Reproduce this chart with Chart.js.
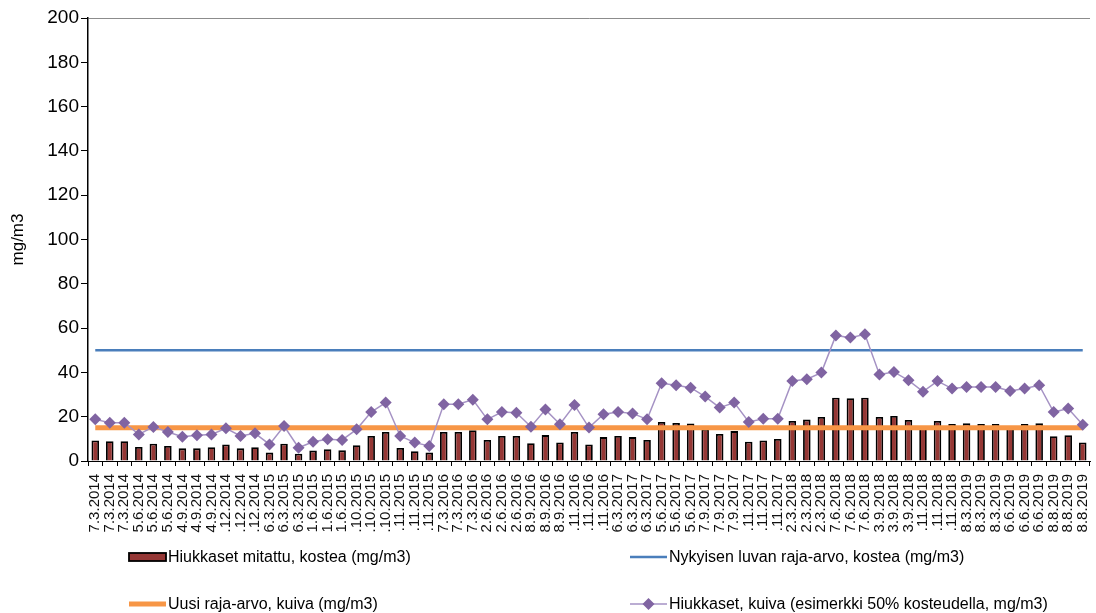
<!DOCTYPE html>
<html>
<head>
<meta charset="utf-8">
<script src="https://cdn.jsdelivr.net/npm/chart.js@4/dist/chart.umd.min.js"></script>
<style>
  html, body { margin: 0; padding: 0; background: #fff; }
  #wrap { width: 1096px; height: 613px; }
</style>
</head>
<body>
<div id="wrap"><canvas id="chart" width="1096" height="613"></canvas></div>
<script>
// Sampling dates (three samples per measurement campaign)
const dates = [
  '7.3.2014', '7.3.2014', '7.3.2014',
  '5.6.2014', '5.6.2014', '5.6.2014',
  '4.9.2014', '4.9.2014', '4.9.2014',
  '.12.2014', '.12.2014', '.12.2014',
  '6.3.2015', '6.3.2015', '6.3.2015',
  '1.6.2015', '1.6.2015', '1.6.2015',
  '.10.2015', '.10.2015', '.10.2015',
  '.11.2015', '.11.2015', '.11.2015',
  '7.3.2016', '7.3.2016', '7.3.2016',
  '2.6.2016', '2.6.2016', '2.6.2016',
  '8.9.2016', '8.9.2016', '8.9.2016',
  '.11.2016', '.11.2016', '.11.2016',
  '6.3.2017', '6.3.2017', '6.3.2017',
  '5.6.2017', '5.6.2017', '5.6.2017',
  '7.9.2017', '7.9.2017', '7.9.2017',
  '.11.2017', '.11.2017', '.11.2017',
  '2.3.2018', '2.3.2018', '2.3.2018',
  '7.6.2018', '7.6.2018', '7.6.2018',
  '3.9.2018', '3.9.2018', '3.9.2018',
  '.11.2018', '.11.2018', '.11.2018',
  '8.3.2019', '8.3.2019', '8.3.2019',
  '6.6.2019', '6.6.2019', '6.6.2019',
  '8.8.2019', '8.8.2019', '8.8.2019'
];

// Measured particulates, wet basis (mg/m3)
const measuredWet = [
  9.3, 8.9, 8.9, 6.3, 7.8, 6.8, 5.7, 5.7, 6.2, 7.5, 5.7, 6.2,
  3.8, 7.8, 3.3, 4.7, 5.3, 4.8, 7.1, 11.3, 13.1, 5.9, 4.4, 3.8,
  13.1, 13.1, 13.9, 9.5, 11.3, 11.3, 8.0, 11.7, 8.4, 13.1, 7.5, 10.8,
  11.3, 10.8, 9.5, 17.6, 17.2, 16.9, 14.5, 12.2, 13.5, 8.7, 9.3, 9.9,
  18.1, 18.7, 19.9, 28.6, 28.3, 28.6, 19.9, 20.3, 18.5, 15.6, 18.1, 16.7,
  17.0, 16.7, 16.7, 15.8, 16.7, 17.0, 11.2, 11.6, 8.4
];

// Particulates, dry basis (example at 50% moisture, mg/m3)
const particlesDry = [
  18.8, 17.3, 17.3, 12.0, 15.4, 13.1, 11.0, 11.6, 12.0, 14.8, 11.3, 12.5,
  7.5, 15.8, 6.0, 8.7, 9.8, 9.5, 14.3, 22.1, 26.4, 11.3, 8.3, 6.8,
  25.6, 25.6, 27.7, 18.8, 22.1, 21.8, 15.5, 23.2, 16.6, 25.3, 15.1, 21.1,
  22.1, 21.5, 18.8, 35.1, 34.2, 33.1, 29.1, 24.1, 26.4, 17.6, 19.1, 19.1,
  36.1, 36.9, 39.9, 56.7, 55.7, 57.2, 39.1, 40.2, 36.4, 31.3, 36.1, 32.7,
  33.4, 33.4, 33.4, 31.6, 32.7, 34.2, 22.1, 23.7, 16.4
];

// Emission limits (mg/m3)
const currentPermitLimit = 50;
const newLimitDry = 15;

// Y axis range
const yMin = 0, yMax = 200, yStep = 20;

const FONT = "'Liberation Sans', Arial, sans-serif";

// Two-column legend drawn below the axis labels
const legendPlugin = {
  id: 'gridLegend',
  afterDraw(chart) {
    const ctx = chart.ctx;
    const cols = [129, 630];
    const rows = [557, 604];
    const sw = 37;
    ctx.save();
    ctx.font = '16px ' + FONT;
    ctx.textBaseline = 'middle';
    ctx.fillStyle = '#000';
    chart.data.datasets.forEach((ds, i) => {
      const x = cols[i % 2];
      const y = rows[Math.floor(i / 2)];
      if (ds.type === 'bar') {
        ctx.fillStyle = ds.backgroundColor;
        ctx.fillRect(x, y - 4, sw, 8);
        ctx.strokeStyle = '#000';
        ctx.lineWidth = 1.8;
        ctx.strokeRect(x, y - 4, sw, 8);
      } else {
        ctx.strokeStyle = ds.borderColor;
        ctx.lineWidth = ds.borderWidth;
        ctx.beginPath();
        ctx.moveTo(x, y);
        ctx.lineTo(x + sw, y);
        ctx.stroke();
        if (ds.pointRadius > 0) {
          const cx = x + sw / 2, r = ds.pointRadius;
          ctx.fillStyle = ds.pointBackgroundColor;
          ctx.beginPath();
          ctx.moveTo(cx - r, y);
          ctx.lineTo(cx, y - r);
          ctx.lineTo(cx + r, y);
          ctx.lineTo(cx, y + r);
          ctx.closePath();
          ctx.fill();
        }
      }
      ctx.fillStyle = '#000';
      ctx.fillText(ds.label, x + sw + 2, y + 1);
    });
    ctx.restore();
  }
};

const chart = new Chart(document.getElementById('chart'), {
  data: {
    labels: dates,
    datasets: [
      {
        type: 'bar',
        label: 'Hiukkaset mitattu, kostea (mg/m3)',
        data: measuredWet,
        backgroundColor: '#953735',
        borderColor: '#000',
        borderWidth: 1.8,
        barPercentage: 0.52,
        categoryPercentage: 1,
        order: 4
      },
      {
        type: 'line',
        label: 'Nykyisen luvan raja-arvo, kostea (mg/m3)',
        data: dates.map(() => currentPermitLimit),
        borderColor: '#4A7EBB',
        borderWidth: 2.5,
        pointRadius: 0,
        order: 3
      },
      {
        type: 'line',
        label: 'Uusi raja-arvo, kuiva (mg/m3)',
        data: dates.map(() => newLimitDry),
        borderColor: '#F79646',
        borderWidth: 5,
        pointRadius: 0,
        order: 2
      },
      {
        type: 'line',
        label: 'Hiukkaset, kuiva (esimerkki 50% kosteudella, mg/m3)',
        data: particlesDry,
        borderColor: '#A592C4',
        borderWidth: 1.5,
        pointStyle: 'rectRot',
        pointRadius: 6,
        pointBorderWidth: 0,
        pointBackgroundColor: '#8064A2',
        pointBorderColor: '#8064A2',
        order: 1
      }
    ]
  },
  options: {
    responsive: false,
    animation: false,
    devicePixelRatio: 1,
    layout: { padding: { top: 18, right: 3, bottom: 0, left: 0 } },
    plugins: {
      legend: { display: false },
      tooltip: { enabled: false }
    },
    scales: {
      x: {
        type: 'category',
        offset: true,
        grid: {
          offset: true,
          drawOnChartArea: false,
          drawTicks: true,
          tickLength: 5,
          tickColor: '#000'
        },
        border: { display: true, color: '#000', width: 1 },
        ticks: {
          autoSkip: false,
          maxRotation: 90,
          minRotation: 90,
          padding: 8,
          color: '#111',
          font: { family: FONT, size: 15 }
        },
        afterFit(scale) {
          scale.height = 613 - 461;
          scale.paddingLeft = 0;
          scale.paddingRight = 0;
        }
      },
      y: {
        min: yMin,
        max: yMax,
        ticks: {
          stepSize: yStep,
          padding: 2,
          color: '#000',
          font: { family: FONT, size: 19 }
        },
        grid: {
          drawOnChartArea: true,
          color: c => (c.tick && c.tick.value === yMax) ? '#8c8c8c' : 'rgba(0,0,0,0)',
          tickColor: '#000',
          tickLength: 7
        },
        border: { display: true, color: '#000', width: 1.5 },
        title: {
          display: true,
          text: 'mg/m3',
          color: '#000',
          font: { family: FONT, size: 17 },
          padding: { top: 8, bottom: 0 }
        },
        afterFit(scale) {
          scale.width = 88;
          scale.paddingTop = 0;
          scale.paddingBottom = 0;
        }
      }
    }
  },
  plugins: [legendPlugin]
});
</script>
</body>
</html>
